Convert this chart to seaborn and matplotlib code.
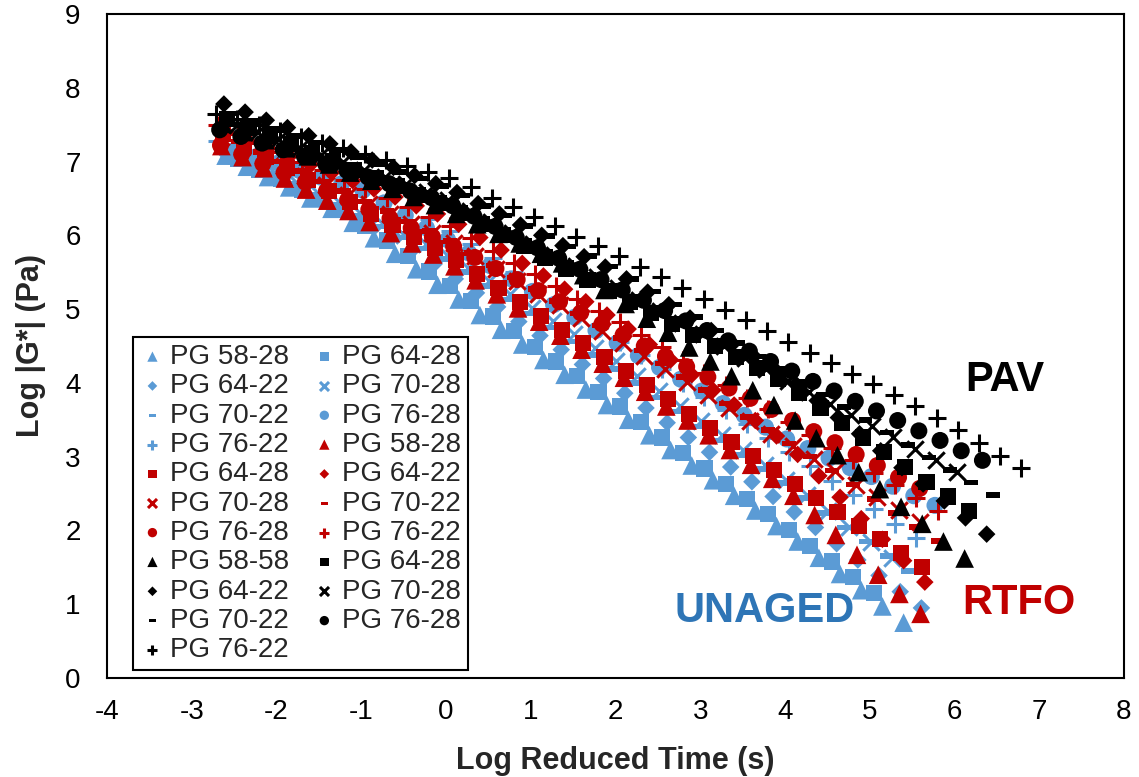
import matplotlib

matplotlib.use("Agg")
import matplotlib.pyplot as plt
import seaborn as sns

# Log reduced time (s) and log |G*| (Pa), one pair per binder.
# Unaged binders
UNAGED_58_28_X = [-2.6, -2.35, -2.1, -1.85, -1.6, -1.35, -1.1, -0.85, -0.6, -0.35, -0.1, 0.15, 0.4, 0.65, 0.9, 1.15, 1.4,
                  1.65, 1.9, 2.15, 2.4, 2.65, 2.9, 3.15, 3.4, 3.65, 3.9, 4.15, 4.4, 4.65, 4.9, 5.15, 5.4]
UNAGED_58_28_Y = [7.08, 6.93, 6.79, 6.65, 6.50, 6.36, 6.17, 5.96, 5.75, 5.54, 5.33, 5.13, 4.92, 4.72, 4.52, 4.31, 4.11,
                  3.91, 3.70, 3.50, 3.29, 3.09, 2.88, 2.68, 2.47, 2.27, 2.06, 1.85, 1.63, 1.41, 1.19, 0.97, 0.75]
UNAGED_64_28_X = [-2.45, -2.2, -1.95, -1.7, -1.45, -1.2, -0.95, -0.7, -0.45, -0.2, 0.05, 0.3, 0.55, 0.8, 1.05, 1.3, 1.55,
                  1.8, 2.05, 2.3, 2.55, 2.8, 3.05, 3.3, 3.55, 3.8, 4.05, 4.3, 4.55, 4.8, 5.05]
UNAGED_64_28_Y = [7.03, 6.89, 6.76, 6.62, 6.49, 6.34, 6.13, 5.93, 5.72, 5.51, 5.31, 5.11, 4.90, 4.70, 4.49, 4.29, 4.09,
                  3.88, 3.68, 3.47, 3.26, 3.05, 2.84, 2.63, 2.43, 2.22, 2.01, 1.79, 1.58, 1.37, 1.15]
UNAGED_64_22_X = [-2.64, -2.39, -2.14, -1.89, -1.64, -1.39, -1.14, -0.89, -0.64, -0.39, -0.14, 0.11, 0.36, 0.61, 0.86,
                  1.11, 1.36, 1.61, 1.86, 2.11, 2.36, 2.61, 2.86, 3.11, 3.36, 3.61, 3.86, 4.11, 4.36, 4.61, 4.86, 5.11,
                  5.36, 5.61]
UNAGED_64_22_Y = [7.16, 7.04, 6.92, 6.81, 6.69, 6.57, 6.41, 6.21, 6.01, 5.81, 5.61, 5.41, 5.22, 5.03, 4.83, 4.64, 4.45,
                  4.25, 4.06, 3.86, 3.66, 3.46, 3.26, 3.06, 2.86, 2.66, 2.46, 2.25, 2.04, 1.82, 1.60, 1.39, 1.17, 0.95]
UNAGED_70_28_X = [-2.49, -2.24, -1.99, -1.74, -1.49, -1.24, -0.99, -0.74, -0.49, -0.24, 0.01, 0.26, 0.51, 0.76, 1.01,
                  1.26, 1.51, 1.76, 2.01, 2.26, 2.51, 2.76, 3.01, 3.26, 3.51, 3.76, 4.01, 4.26, 4.51, 4.76, 5.01, 5.26]
UNAGED_70_28_Y = [7.09, 6.96, 6.82, 6.69, 6.55, 6.42, 6.28, 6.15, 6.01, 5.88, 5.74, 5.56, 5.38, 5.20, 5.02, 4.84, 4.66,
                  4.47, 4.29, 4.09, 3.89, 3.69, 3.49, 3.29, 3.09, 2.89, 2.69, 2.48, 2.27, 2.05, 1.84, 1.63]
UNAGED_70_22_X = [-2.55, -2.3, -2.05, -1.8, -1.55, -1.3, -1.05, -0.8, -0.55, -0.3, -0.05, 0.2, 0.45, 0.7, 0.95, 1.2,
                  1.45, 1.7, 1.95, 2.2, 2.45, 2.7, 2.95, 3.2, 3.45, 3.7, 3.95, 4.2, 4.45, 4.7, 4.95, 5.2, 5.45]
UNAGED_70_22_Y = [7.13, 6.99, 6.84, 6.70, 6.55, 6.41, 6.26, 6.12, 5.97, 5.82, 5.68, 5.50, 5.31, 5.13, 4.94, 4.75, 4.56,
                  4.38, 4.19, 4.00, 3.80, 3.61, 3.41, 3.22, 3.02, 2.83, 2.64, 2.44, 2.24, 2.04, 1.85, 1.65, 1.45]
UNAGED_76_28_X = [-2.48, -2.23, -1.98, -1.73, -1.48, -1.23, -0.98, -0.73, -0.48, -0.23, 0.02, 0.27, 0.52, 0.77, 1.02,
                  1.27, 1.52, 1.77, 2.02, 2.27, 2.52, 2.77, 3.02, 3.27, 3.52, 3.77, 4.02, 4.27, 4.52, 4.77, 5.02, 5.27,
                  5.52, 5.77]
UNAGED_76_28_Y = [7.16, 7.07, 6.98, 6.88, 6.79, 6.70, 6.61, 6.44, 6.27, 6.10, 5.94, 5.76, 5.59, 5.41, 5.24, 5.06, 4.89,
                  4.71, 4.54, 4.37, 4.21, 4.05, 3.89, 3.72, 3.56, 3.40, 3.24, 3.11, 2.98, 2.85, 2.73, 2.60, 2.47, 2.34]
UNAGED_76_22_X = [-2.7, -2.45, -2.2, -1.95, -1.7, -1.45, -1.2, -0.95, -0.7, -0.45, -0.2, 0.05, 0.3, 0.55, 0.8, 1.05,
                  1.3, 1.55, 1.8, 2.05, 2.3, 2.55, 2.8, 3.05, 3.3, 3.55, 3.8, 4.05, 4.3, 4.55, 4.8, 5.05, 5.3, 5.55]
UNAGED_76_22_Y = [7.28, 7.19, 7.11, 7.02, 6.94, 6.85, 6.77, 6.67, 6.52, 6.37, 6.22, 6.06, 5.88, 5.69, 5.50, 5.31, 5.13,
                  4.94, 4.75, 4.56, 4.38, 4.19, 4.00, 3.81, 3.63, 3.44, 3.25, 3.06, 2.87, 2.67, 2.48, 2.29, 2.09, 1.90]

# RTFO aged binders
RTFO_58_28_X = [-2.65, -2.4, -2.15, -1.9, -1.65, -1.4, -1.15, -0.9, -0.65, -0.4, -0.15, 0.1, 0.35, 0.6, 0.85, 1.1, 1.35,
                1.6, 1.85, 2.1, 2.35, 2.6, 2.85, 3.1, 3.35, 3.6, 3.85, 4.1, 4.35, 4.6, 4.85, 5.1, 5.35, 5.6]
RTFO_58_28_Y = [7.21, 7.06, 6.91, 6.77, 6.62, 6.47, 6.33, 6.18, 6.03, 5.89, 5.74, 5.58, 5.39, 5.20, 5.01, 4.83, 4.64,
                4.45, 4.26, 4.07, 3.88, 3.68, 3.49, 3.29, 3.09, 2.89, 2.70, 2.47, 2.21, 1.94, 1.67, 1.40, 1.14, 0.87]
RTFO_64_28_X = [-2.63, -2.38, -2.13, -1.88, -1.63, -1.38, -1.13, -0.88, -0.63, -0.38, -0.13, 0.12, 0.37, 0.62, 0.87,
                1.12, 1.37, 1.62, 1.87, 2.12, 2.37, 2.62, 2.87, 3.12, 3.37, 3.62, 3.87, 4.12, 4.37, 4.62, 4.87, 5.12,
                5.37, 5.62]
RTFO_64_28_Y = [7.37, 7.21, 7.06, 6.91, 6.75, 6.60, 6.45, 6.29, 6.14, 5.98, 5.83, 5.66, 5.47, 5.29, 5.10, 4.91, 4.72,
                4.54, 4.35, 4.16, 3.97, 3.78, 3.58, 3.39, 3.20, 3.01, 2.82, 2.63, 2.44, 2.25, 2.06, 1.88, 1.69, 1.50]
RTFO_64_22_X = [-2.6, -2.35, -2.1, -1.85, -1.6, -1.35, -1.1, -0.85, -0.6, -0.35, -0.1, 0.15, 0.4, 0.65, 0.9, 1.15, 1.4,
                1.65, 1.9, 2.15, 2.4, 2.65, 2.9, 3.15, 3.4, 3.65, 3.9, 4.15, 4.4, 4.65, 4.9, 5.15, 5.4, 5.65]
RTFO_64_22_Y = [7.40, 7.29, 7.18, 7.07, 6.96, 6.85, 6.74, 6.63, 6.52, 6.40, 6.29, 6.15, 5.97, 5.80, 5.62, 5.45, 5.27,
                5.10, 4.92, 4.73, 4.52, 4.31, 4.11, 3.90, 3.70, 3.49, 3.28, 3.03, 2.74, 2.45, 2.16, 1.88, 1.59, 1.30]
RTFO_70_28_X = [-2.66, -2.41, -2.16, -1.91, -1.66, -1.41, -1.16, -0.91, -0.66, -0.41, -0.16, 0.09, 0.34, 0.59, 0.84,
                1.09, 1.34, 1.59, 1.84, 2.09, 2.34, 2.59, 2.84, 3.09, 3.34, 3.59, 3.84, 4.09, 4.34, 4.59, 4.84, 5.09,
                5.34, 5.59]
RTFO_70_28_Y = [7.33, 7.20, 7.07, 6.94, 6.81, 6.68, 6.55, 6.42, 6.29, 6.16, 6.03, 5.89, 5.72, 5.55, 5.38, 5.21, 5.05,
                4.88, 4.71, 4.54, 4.36, 4.19, 4.01, 3.84, 3.66, 3.49, 3.31, 3.14, 2.97, 2.80, 2.62, 2.45, 2.28, 2.11]
RTFO_70_22_X = [-2.45, -2.2, -1.95, -1.7, -1.45, -1.2, -0.95, -0.7, -0.45, -0.2, 0.05, 0.3, 0.55, 0.8, 1.05, 1.3, 1.55,
                1.8, 2.05, 2.3, 2.55, 2.8, 3.05, 3.3, 3.55, 3.8, 4.05, 4.3, 4.55, 4.8, 5.05, 5.3, 5.55, 5.8]
RTFO_70_22_Y = [7.27, 7.13, 7.00, 6.87, 6.73, 6.60, 6.46, 6.33, 6.19, 6.06, 5.92, 5.76, 5.59, 5.43, 5.27, 5.11, 4.94,
                4.78, 4.61, 4.44, 4.26, 4.08, 3.90, 3.72, 3.54, 3.36, 3.18, 3.00, 2.81, 2.62, 2.43, 2.24, 2.05, 1.86]
RTFO_76_28_X = [-2.66, -2.41, -2.16, -1.91, -1.66, -1.41, -1.16, -0.91, -0.66, -0.41, -0.16, 0.09, 0.34, 0.59, 0.84,
                1.09, 1.34, 1.59, 1.84, 2.09, 2.34, 2.59, 2.84, 3.09, 3.34, 3.59, 3.84, 4.09, 4.34, 4.59, 4.84, 5.09,
                5.34, 5.59]
RTFO_76_28_Y = [7.22, 7.10, 6.97, 6.85, 6.72, 6.60, 6.48, 6.35, 6.23, 6.10, 5.98, 5.85, 5.70, 5.55, 5.40, 5.25, 5.10,
                4.95, 4.80, 4.65, 4.50, 4.36, 4.22, 4.08, 3.93, 3.79, 3.64, 3.49, 3.34, 3.19, 3.03, 2.88, 2.72, 2.57]
RTFO_76_22_X = [-2.7, -2.45, -2.2, -1.95, -1.7, -1.45, -1.2, -0.95, -0.7, -0.45, -0.2, 0.05, 0.3, 0.55, 0.8, 1.05, 1.3,
                1.55, 1.8, 2.05, 2.3, 2.55, 2.8, 3.05, 3.3, 3.55, 3.8, 4.05, 4.3, 4.55, 4.8, 5.05, 5.3, 5.55, 5.8]
RTFO_76_22_Y = [7.50, 7.38, 7.25, 7.13, 7.00, 6.88, 6.75, 6.63, 6.50, 6.38, 6.25, 6.12, 5.96, 5.79, 5.63, 5.47, 5.31,
                5.14, 4.98, 4.82, 4.65, 4.48, 4.31, 4.14, 3.97, 3.80, 3.64, 3.47, 3.30, 3.12, 2.95, 2.78, 2.61, 2.44,
                2.27]

# PAV aged binders
PAV_58_58_X = [-2.63, -2.38, -2.13, -1.88, -1.63, -1.38, -1.13, -0.88, -0.63, -0.38, -0.13, 0.12, 0.37, 0.62, 0.87,
               1.12, 1.37, 1.62, 1.87, 2.12, 2.37, 2.62, 2.87, 3.12, 3.37, 3.62, 3.87, 4.12, 4.37, 4.62, 4.87, 5.12,
               5.37, 5.62, 5.87, 6.12]
PAV_58_58_Y = [7.51, 7.40, 7.29, 7.18, 7.07, 6.96, 6.85, 6.74, 6.63, 6.52, 6.41, 6.29, 6.15, 6.02, 5.89, 5.75, 5.62,
               5.46, 5.26, 5.07, 4.87, 4.68, 4.48, 4.29, 4.09, 3.90, 3.70, 3.49, 3.25, 3.02, 2.79, 2.56, 2.32, 2.09,
               1.85, 1.62]
PAV_64_28_X = [-2.58, -2.33, -2.08, -1.83, -1.58, -1.33, -1.08, -0.83, -0.58, -0.33, -0.08, 0.17, 0.42, 0.67, 0.92,
               1.17, 1.42, 1.67, 1.92, 2.17, 2.42, 2.67, 2.92, 3.17, 3.42, 3.67, 3.92, 4.17, 4.42, 4.67, 4.92, 5.17,
               5.42, 5.67, 5.92, 6.17]
PAV_64_28_Y = [7.58, 7.46, 7.35, 7.24, 7.12, 7.01, 6.89, 6.78, 6.67, 6.55, 6.44, 6.30, 6.15, 6.00, 5.85, 5.70, 5.55,
               5.40, 5.25, 5.10, 4.95, 4.80, 4.65, 4.50, 4.35, 4.20, 4.05, 3.86, 3.66, 3.46, 3.26, 3.06, 2.86, 2.66,
               2.46, 2.26]
PAV_64_22_X = [-2.62, -2.37, -2.12, -1.87, -1.62, -1.37, -1.12, -0.87, -0.62, -0.37, -0.12, 0.13, 0.38, 0.63, 0.88,
               1.13, 1.38, 1.63, 1.88, 2.13, 2.38, 2.63, 2.88, 3.13, 3.38, 3.63, 3.88, 4.13, 4.38, 4.63, 4.88, 5.13,
               5.38, 5.63, 5.88, 6.13, 6.38]
PAV_64_22_Y = [7.78, 7.67, 7.56, 7.46, 7.35, 7.24, 7.13, 7.02, 6.92, 6.81, 6.70, 6.58, 6.43, 6.29, 6.14, 6.00, 5.86,
               5.71, 5.57, 5.41, 5.23, 5.06, 4.88, 4.71, 4.53, 4.36, 4.18, 3.98, 3.76, 3.53, 3.31, 3.08, 2.85, 2.63,
               2.40, 2.17, 1.95]
PAV_70_28_X = [-2.47, -2.22, -1.97, -1.72, -1.47, -1.22, -0.97, -0.72, -0.47, -0.22, 0.03, 0.28, 0.53, 0.78, 1.03,
               1.28, 1.53, 1.78, 2.03, 2.28, 2.53, 2.78, 3.03, 3.28, 3.53, 3.78, 4.03, 4.28, 4.53, 4.78, 5.03, 5.28,
               5.53, 5.78, 6.03]
PAV_70_28_Y = [7.50, 7.40, 7.30, 7.19, 7.09, 6.99, 6.89, 6.79, 6.69, 6.59, 6.48, 6.33, 6.18, 6.03, 5.88, 5.73, 5.58,
               5.43, 5.28, 5.13, 4.97, 4.81, 4.66, 4.50, 4.34, 4.19, 4.03, 3.88, 3.72, 3.57, 3.41, 3.26, 3.10, 2.95,
               2.79]
PAV_70_22_X = [-2.55, -2.3, -2.05, -1.8, -1.55, -1.3, -1.05, -0.8, -0.55, -0.3, -0.05, 0.2, 0.45, 0.7, 0.95, 1.2, 1.45,
               1.7, 1.95, 2.2, 2.45, 2.7, 2.95, 3.2, 3.45, 3.7, 3.95, 4.2, 4.45, 4.7, 4.95, 5.2, 5.45, 5.7, 5.95, 6.2,
               6.45]
PAV_70_22_Y = [7.65, 7.55, 7.45, 7.35, 7.26, 7.16, 7.06, 6.96, 6.86, 6.77, 6.67, 6.54, 6.40, 6.27, 6.13, 5.99, 5.85,
               5.72, 5.58, 5.41, 5.24, 5.06, 4.89, 4.71, 4.54, 4.36, 4.19, 4.01, 3.84, 3.67, 3.50, 3.33, 3.16, 2.99,
               2.82, 2.65, 2.48]
PAV_76_28_X = [-2.67, -2.42, -2.17, -1.92, -1.67, -1.42, -1.17, -0.92, -0.67, -0.42, -0.17, 0.08, 0.33, 0.58, 0.83,
               1.08, 1.33, 1.58, 1.83, 2.08, 2.33, 2.58, 2.83, 3.08, 3.33, 3.58, 3.83, 4.08, 4.33, 4.58, 4.83, 5.08,
               5.33, 5.58, 5.83, 6.08, 6.33]
PAV_76_28_Y = [7.43, 7.34, 7.25, 7.16, 7.07, 6.97, 6.88, 6.79, 6.70, 6.60, 6.51, 6.40, 6.26, 6.12, 5.97, 5.83, 5.69,
               5.54, 5.40, 5.26, 5.12, 4.98, 4.84, 4.71, 4.57, 4.43, 4.29, 4.16, 4.02, 3.89, 3.75, 3.62, 3.49, 3.35,
               3.22, 3.08, 2.95]
PAV_76_22_X = [-2.71, -2.46, -2.21, -1.96, -1.71, -1.46, -1.21, -0.96, -0.71, -0.46, -0.21, 0.04, 0.29, 0.54, 0.79,
               1.04, 1.29, 1.54, 1.79, 2.04, 2.29, 2.54, 2.79, 3.04, 3.29, 3.54, 3.79, 4.04, 4.29, 4.54, 4.79, 5.04,
               5.29, 5.54, 5.79, 6.04, 6.29, 6.54, 6.79]
PAV_76_22_Y = [7.65, 7.57, 7.49, 7.41, 7.33, 7.25, 7.18, 7.10, 7.02, 6.94, 6.86, 6.78, 6.65, 6.51, 6.38, 6.25, 6.12,
               5.98, 5.85, 5.72, 5.57, 5.43, 5.28, 5.14, 4.99, 4.85, 4.70, 4.56, 4.41, 4.27, 4.12, 3.98, 3.84, 3.69,
               3.53, 3.36, 3.18, 3.01, 2.84]

UNAGED_LABELS = ["PG 58-28", "PG 64-28", "PG 64-22", "PG 70-28", "PG 70-22", "PG 76-28", "PG 76-22"]
RTFO_LABELS = ["PG 58-28", "PG 64-28", "PG 64-22", "PG 70-28", "PG 70-22", "PG 76-28", "PG 76-22"]
PAV_LABELS = ["PG 58-58", "PG 64-28", "PG 64-22", "PG 70-28", "PG 70-22", "PG 76-28", "PG 76-22"]

GROUPS = [
    ("#5B9BD5", UNAGED_LABELS, [
        (UNAGED_58_28_X, UNAGED_58_28_Y), (UNAGED_64_28_X, UNAGED_64_28_Y), (UNAGED_64_22_X, UNAGED_64_22_Y),
        (UNAGED_70_28_X, UNAGED_70_28_Y), (UNAGED_70_22_X, UNAGED_70_22_Y), (UNAGED_76_28_X, UNAGED_76_28_Y),
        (UNAGED_76_22_X, UNAGED_76_22_Y)]),
    ("#C00000", RTFO_LABELS, [
        (RTFO_58_28_X, RTFO_58_28_Y), (RTFO_64_28_X, RTFO_64_28_Y), (RTFO_64_22_X, RTFO_64_22_Y),
        (RTFO_70_28_X, RTFO_70_28_Y), (RTFO_70_22_X, RTFO_70_22_Y), (RTFO_76_28_X, RTFO_76_28_Y),
        (RTFO_76_22_X, RTFO_76_22_Y)]),
    ("#000000", PAV_LABELS, [
        (PAV_58_58_X, PAV_58_58_Y), (PAV_64_28_X, PAV_64_28_Y), (PAV_64_22_X, PAV_64_22_Y),
        (PAV_70_28_X, PAV_70_28_Y), (PAV_70_22_X, PAV_70_22_Y), (PAV_76_28_X, PAV_76_28_Y),
        (PAV_76_22_X, PAV_76_22_Y)]),
]

# Excel-like marker for each grade slot: triangle, square, diamond, x, dash, circle, plus
DASH = [(-1, -0.4), (1, -0.4), (1, 0.4), (-1, 0.4)]
MARKER_STYLES = [("^", 180, 0), ("s", 135, 0), ("D", 80, 0), ("x", 140, 2.2), (DASH, 100, 0), ("o", 150, 0),
                 ("+", 165, 2.2)]

sns.set_theme(style="white")
plt.rcParams["font.family"] = ["Liberation Sans", "DejaVu Sans"]
plt.rcParams["axes.unicode_minus"] = False

fig = plt.figure(figsize=(11.39, 7.77), dpi=100)
ax = fig.add_axes([0.0939, 0.1274, 0.8929, 0.8546])

for colour, labels, series in GROUPS:
    for label, (xs, ys), (marker, size, lw) in zip(labels, series, MARKER_STYLES):
        line_marker = marker in ("x", "+")
        sns.scatterplot(
            x=xs, y=ys, ax=ax, marker=marker, s=size, color=colour,
            edgecolor=colour if line_marker else "none",
            linewidth=lw, label=label, legend=False,
        )

ax.set_xlim(-4, 8)
ax.set_ylim(0, 9)
ax.set_xticks(range(-4, 9))
ax.set_yticks(range(0, 10))
ax.tick_params(axis="both", length=0, labelsize=20, colors="black")
ax.tick_params(axis="x", pad=15)
ax.tick_params(axis="y", pad=19)
for spine in ax.spines.values():
    spine.set_color("black")
    spine.set_linewidth(1.5)

ax.set_xlabel("Log Reduced Time (s)", fontsize=22, fontweight="bold", labelpad=15)
ax.set_ylabel("Log |G*| (Pa)", fontsize=22, fontweight="bold", labelpad=14)

ax.text(6.59, 4.04, "PAV", fontsize=30, fontweight="bold", color="black", ha="center", va="center")
ax.text(3.76, 0.91, "UNAGED", fontsize=30, fontweight="bold", color="#2E75B6", ha="center", va="center")
ax.text(6.76, 1.02, "RTFO", fontsize=30, fontweight="bold", color="#C00000", ha="center", va="center")

# Excel fills the legend row by row; matplotlib fills it column by column
handles, names = ax.get_legend_handles_labels()
order = list(range(0, len(handles), 2)) + list(range(1, len(handles), 2))
legend = ax.legend(
    [handles[i] for i in order], [names[i] for i in order],
    ncol=2, loc="upper left", bbox_to_anchor=(0.0256, 0.5136), borderaxespad=0,
    fontsize=20, markerscale=0.55, handlelength=0.9, handletextpad=0.2,
    columnspacing=0.8, labelspacing=0.12, borderpad=0.25,
    frameon=True, fancybox=False, framealpha=1,
)
legend.get_frame().set_edgecolor("black")
legend.get_frame().set_linewidth(1.5)

fig.savefig("out.png", dpi=100)
